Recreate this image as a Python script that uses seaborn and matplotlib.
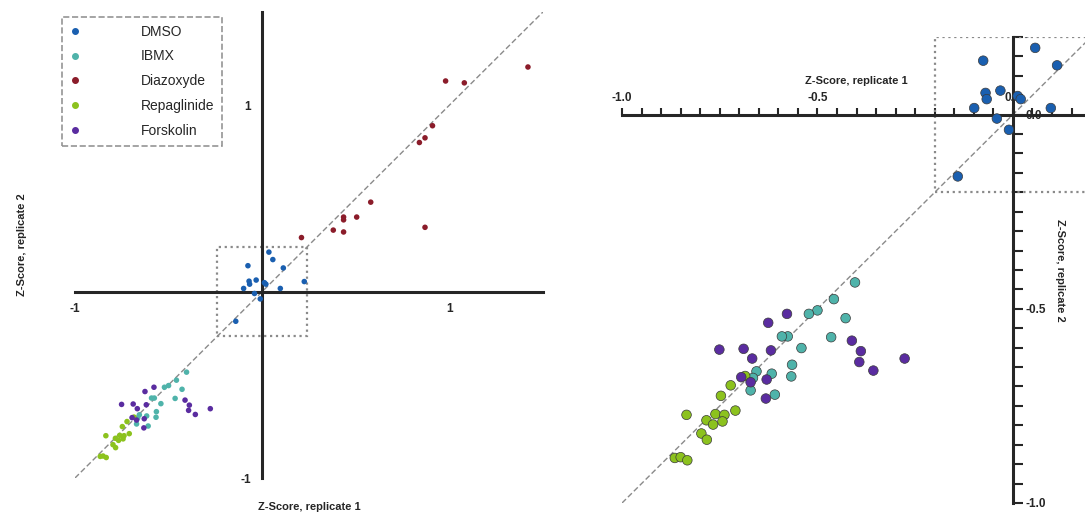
import numpy as np
import pandas as pd
import seaborn as sns
import matplotlib.pyplot as plt
from matplotlib.lines import Line2D
from matplotlib.patches import Rectangle

# Z-scores (replicate 1, replicate 2)
dmso_r1 = [0.057, -0.076, 0.113, -0.070, -0.067, -0.032, 0.012, 0.020, -0.099, 0.097, -0.041, -0.010, -0.141, 0.036, 0.225]
dmso_r2 = [0.172, 0.139, 0.127, 0.056, 0.040, 0.062, 0.048, 0.040, 0.017, 0.017, -0.010, -0.039, -0.159, 0.212, 0.054]

ibmx_r1 = [-0.404, -0.458, -0.500, -0.522, -0.428, -0.576, -0.591, -0.465, -0.541, -0.565, -0.656, -0.617, -0.567, -0.665, -0.671, -0.609]
ibmx_r2 = [-0.432, -0.475, -0.504, -0.513, -0.524, -0.571, -0.571, -0.573, -0.601, -0.644, -0.661, -0.667, -0.674, -0.678, -0.710, -0.721]

diazo_r1 = [1.42, 0.98, 1.08, 0.91, 0.87, 0.84, 0.58, 0.505, 0.435, 0.435, 0.38, 0.435, 0.87, 0.21]
diazo_r2 = [1.205, 1.13, 1.12, 0.89, 0.825, 0.80, 0.48, 0.40, 0.40, 0.385, 0.33, 0.32, 0.345, 0.29]

repa_r1 = [-0.685, -0.722, -0.747, -0.710, -0.835, -0.761, -0.738, -0.784, -0.767, -0.743, -0.797, -0.783, -0.865, -0.850, -0.833]
repa_r2 = [-0.673, -0.697, -0.724, -0.762, -0.773, -0.771, -0.773, -0.787, -0.798, -0.790, -0.821, -0.837, -0.884, -0.882, -0.890]

forsk_r1 = [-0.578, -0.626, -0.751, -0.689, -0.619, -0.667, -0.412, -0.389, -0.393, -0.357, -0.277, -0.695, -0.671, -0.630, -0.632]
forsk_r2 = [-0.513, -0.536, -0.605, -0.603, -0.607, -0.628, -0.582, -0.609, -0.637, -0.659, -0.628, -0.676, -0.689, -0.682, -0.731]

treatments = ['DMSO', 'IBMX', 'Diazoxyde', 'Repaglinide', 'Forskolin']
colors = ['#1a5fb0', '#4fb3aa', '#8b1c2a', '#8cc21e', '#5a2ca0']

groups = [(dmso_r1, dmso_r2), (ibmx_r1, ibmx_r2), (diazo_r1, diazo_r2),
          (repa_r1, repa_r2), (forsk_r1, forsk_r2)]
df = pd.concat([pd.DataFrame({'r1': a, 'r2': b, 'treatment': t})
                for t, (a, b) in zip(treatments, groups)], ignore_index=True)
palette = dict(zip(treatments, colors))

sns.set_style('white')
plt.rcParams['font.family'] = ['Liberation Sans', 'DejaVu Sans']

fig = plt.figure(figsize=(10.85, 5.16), dpi=100)
ax1 = fig.add_axes([0.0691, 0.0736, 0.4313, 0.9031])
ax2 = fig.add_axes([0.5733, 0.0252, 0.4323, 0.9031])

# ---- left panel: full range
sns.scatterplot(data=df, x='r1', y='r2', hue='treatment', hue_order=treatments,
                palette=palette, s=16, linewidth=0, legend=False, ax=ax1, zorder=3)
ax1.axline((0, 0), slope=1, color='#8a8a8a', lw=1, ls=(0, (4, 2)), zorder=1)
ax1.add_patch(Rectangle((-0.24, -0.24), 0.48, 0.48, fill=False, ls=':',
                        lw=1.6, ec='#8a8a8a', zorder=2))
ax1.set_xlim(-1, 1.5)
ax1.set_ylim(-1, 1.5)
for side in ['top', 'right']:
    ax1.spines[side].set_visible(False)
for side in ['left', 'bottom']:
    ax1.spines[side].set_position(('data', 0))
    ax1.spines[side].set_linewidth(2.2)
ax1.set_xticks([-1, 1])
ax1.set_yticks([-1, 1])
ax1.set_xticks(np.arange(-1, 1.51, 0.1), minor=True)
ax1.set_yticks(np.arange(-1, 1.51, 0.1), minor=True)
ax1.set_xticklabels(['-1', '1'], fontweight='bold', fontsize=8.5)
ax1.set_yticklabels(['-1', '1'], fontweight='bold', fontsize=8.5)
ax1.tick_params(which='both', direction='out', length=6, width=1.5, pad=2)
ax1.set_xlabel('Z-Score, replicate 1', fontweight='bold', fontsize=8)
ax1.set_ylabel('Z-Score, replicate 2', fontweight='bold', fontsize=8)
ax1.xaxis.set_label_coords(0.5, -0.052)
ax1.yaxis.set_label_coords(-0.103, 0.5)

handles = [Line2D([0], [0], marker='o', ls='', color=c, markersize=4) for c in colors]
leg = ax1.legend(handles, treatments, loc='upper left',
                 bbox_to_anchor=(62 / 1085, 1 - 17 / 516), bbox_transform=fig.transFigure,
                 fontsize=10, handlelength=0.8, handletextpad=4.3, labelspacing=0.78,
                 borderpad=0.55, borderaxespad=0, fancybox=False, frameon=True)
frame = leg.get_frame()
frame.set_linestyle('--')
frame.set_edgecolor('#7a7a7a')
frame.set_linewidth(1.2)

# ---- right panel: zoom on the negative quadrant
sns.scatterplot(data=df, x='r1', y='r2', hue='treatment', hue_order=treatments,
                palette=palette, s=48, edgecolor='#3a3a3a', linewidth=0.5,
                legend=False, ax=ax2, zorder=3)
ax2.axline((0, 0), slope=1, color='#8a8a8a', lw=1, ls=(0, (4, 2)), zorder=1)
ax2.add_patch(Rectangle((-0.2, -0.2), 0.4, 0.4, fill=False, ls=':',
                        lw=1.6, ec='#8a8a8a', zorder=2))
ax2.set_xlim(-1, 0.2)
ax2.set_ylim(-1, 0.2)
for side in ['left', 'bottom']:
    ax2.spines[side].set_visible(False)
for side in ['top', 'right']:
    ax2.spines[side].set_position(('data', 0))
    ax2.spines[side].set_linewidth(2.2)
ax2.xaxis.tick_top()
ax2.yaxis.tick_right()
ax2.set_xticks([-1, -0.5, 0])
ax2.set_yticks([-1, -0.5, 0])
ax2.set_xticks(np.arange(-1, 0.21, 0.05), minor=True)
ax2.set_yticks(np.arange(-1, 0.21, 0.05), minor=True)
ax2.set_xticklabels(['-1.0', '-0.5', '0.0'], fontweight='bold', fontsize=8.5)
ax2.set_yticklabels(['-1.0', '-0.5', '0.0'], fontweight='bold', fontsize=8.5)
ax2.tick_params(axis='x', which='both', direction='out', length=5, width=1.5, pad=3)
ax2.tick_params(axis='y', which='both', direction='out', length=7, width=1.5, pad=2)
ax2.xaxis.set_label_position('top')
ax2.yaxis.set_label_position('right')
ax2.set_xlabel('Z-Score, replicate 1', fontweight='bold', fontsize=8)
ax2.set_ylabel('Z-Score, replicate 2', fontweight='bold', fontsize=8,
               rotation=270, va='center')
ax2.xaxis.set_label_coords(0.5, 0.90)
ax2.yaxis.set_label_coords(0.934, 0.5)

fig.savefig('out.png', dpi=100)
